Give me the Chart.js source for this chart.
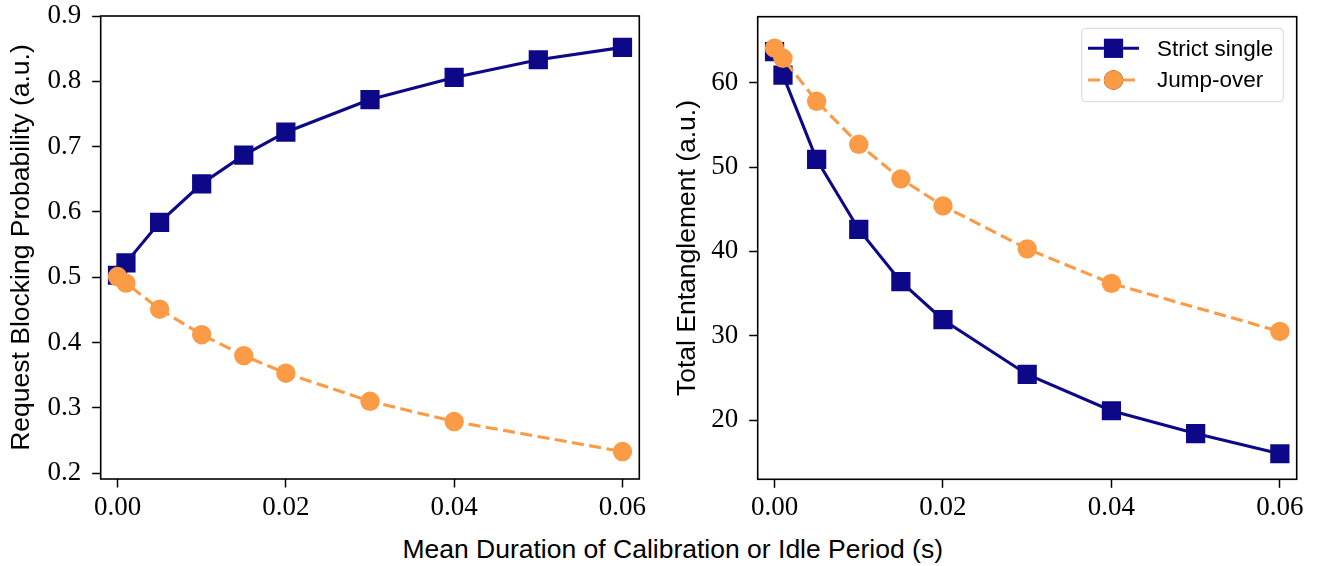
<!DOCTYPE html>
<html>
<head>
<meta charset="utf-8">
<title>Blocking probability and entanglement</title>
<script src="https://cdn.jsdelivr.net/npm/chart.js@4.4.0/dist/chart.umd.min.js"></script>
<style>
  html, body { margin: 0; padding: 0; background: #fff; }
  #wrap { position: relative; width: 1319px; height: 566px; overflow: hidden; }
  canvas { position: absolute; top: 0; }
  #left { left: 0; }
  #right { left: 660px; }
  #xtitle {
    position: absolute; left: 372.7px; width: 600px; top: 534px;
    text-align: center; font: 26.5px "Liberation Sans", Arial, sans-serif;
    line-height: 30px; color: #000; white-space: nowrap;
  }
</style>
</head>
<body>
<div id="wrap">
  <canvas id="left" width="660" height="530"></canvas>
  <canvas id="right" width="659" height="530"></canvas>
  <div id="xtitle">Mean Duration of Calibration or Idle Period (s)</div>
</div>
<script>
// mean calibration / idle duration (s)
const durStrict = [0, 0.001, 0.005, 0.01, 0.015, 0.02, 0.03, 0.04, 0.05, 0.06];
const durJump = [0, 0.001, 0.005, 0.01, 0.015, 0.02, 0.03, 0.04, 0.06];

// request blocking probability
const blockStrict = [0.503, 0.522, 0.584, 0.643, 0.687, 0.722, 0.772, 0.806, 0.833, 0.852];
const blockJump = [0.501, 0.491, 0.451, 0.412, 0.380, 0.353, 0.310, 0.279, 0.233];

// total entanglement
const entStrict = [63.7, 60.9, 50.9, 42.6, 36.4, 31.9, 25.4, 21.1, 18.4, 16.0];
const entJump = [64.1, 62.9, 57.8, 52.7, 48.6, 45.4, 40.3, 36.2, 30.5];

const xTicks = [0, 0.02, 0.04, 0.06];
const yTicksBlock = [0.2, 0.3, 0.4, 0.5, 0.6, 0.7, 0.8, 0.9];
const yTicksEnt = [20, 30, 40, 50, 60];

const seriesNames = ['Strict single', 'Jump-over'];

const NAVY = '#0d0887';
const ORANGE = '#fb9b45';
const SERIF = '"Liberation Serif", "Times New Roman", serif';
const SANS = '"Liberation Sans", Arial, sans-serif';

function pairs(xs, ys) {
  return xs.map((x, i) => ({ x, y: ys[i] }));
}

function strictStyle() {
  return {
    borderColor: NAVY, backgroundColor: NAVY, borderWidth: 3.1,
    pointStyle: 'rect', pointRadius: 13.6, pointBorderWidth: 0,
    pointBackgroundColor: NAVY, order: 1
  };
}

function jumpStyle() {
  return {
    borderColor: ORANGE, backgroundColor: ORANGE, borderWidth: 3.1,
    borderDash: [12, 5.5], pointStyle: 'circle', pointRadius: 9.7,
    pointBorderWidth: 0, pointBackgroundColor: ORANGE, order: 0
  };
}

// black frame round the plot area
const framePlugin = {
  id: 'frame',
  afterDatasetsDraw(chart) {
    const { ctx, chartArea: a } = chart;
    ctx.save();
    ctx.strokeStyle = '#000';
    ctx.lineWidth = 1.6;
    ctx.strokeRect(a.left, a.top, a.right - a.left, a.bottom - a.top);
    ctx.restore();
  }
};

// legend box with line + marker samples
const legendPlugin = {
  id: 'lineLegend',
  afterDraw(chart, args, opts) {
    if (!opts.show) return;
    const ctx = chart.ctx;
    const x0 = 421.7, y0 = 28.3, w = 201.6, h = 73.4;
    ctx.save();
    ctx.beginPath();
    ctx.roundRect(x0, y0, w, h, 4);
    ctx.fillStyle = 'rgba(255,255,255,0.8)';
    ctx.fill();
    ctx.strokeStyle = '#d6d6d6';
    ctx.lineWidth = 1;
    ctx.stroke();
    const rows = [48.3, 80];
    chart.data.datasets.forEach((ds, i) => {
      const y = rows[i];
      ctx.beginPath();
      ctx.setLineDash(ds.borderDash || []);
      ctx.strokeStyle = ds.borderColor;
      ctx.lineWidth = ds.borderWidth;
      ctx.moveTo(428, y);
      ctx.lineTo(479, y);
      ctx.stroke();
      ctx.setLineDash([]);
      Chart.helpers.drawPoint(ctx, {
        pointStyle: ds.pointStyle, radius: ds.pointRadius, rotation: 0, borderWidth: 0
      }, 453.5, y);
      ctx.fillStyle = ds.pointBackgroundColor;
      ctx.fill();
      ctx.fillStyle = '#000';
      ctx.font = '22.5px ' + SANS;
      ctx.textBaseline = 'middle';
      ctx.textAlign = 'left';
      ctx.fillText(ds.label, 497, y + 1);
    });
    ctx.restore();
  }
};

function makeChart(id, cfg) {
  const xScale = {
    type: 'linear', min: -0.002, max: 0.062,
    afterBuildTicks: s => { s.ticks = xTicks.map(v => ({ value: v })); },
    afterFit: s => { s.height = cfg.xHeight; s.paddingLeft = 0; s.paddingRight = 0; },
    ticks: {
      color: '#000', font: { family: SERIF, size: 27 }, padding: 4,
      maxRotation: 0, autoSkip: false, callback: v => v.toFixed(2)
    },
    grid: {
      drawOnChartArea: false, drawTicks: true, tickLength: 8.5,
      tickWidth: 1.5, tickColor: '#000', color: '#000'
    },
    border: { display: false }
  };
  const yScale = {
    type: 'linear', min: cfg.yMin, max: cfg.yMax,
    afterBuildTicks: s => { s.ticks = cfg.yTicks.map(v => ({ value: v })); },
    afterFit: s => { s.width = cfg.yWidth; s.paddingTop = 0; s.paddingBottom = 0; },
    ticks: {
      color: '#000', font: { family: SERIF, size: 27 }, padding: 11,
      autoSkip: false, callback: cfg.yFormat
    },
    grid: {
      drawOnChartArea: false, drawTicks: true, tickLength: 8.5,
      tickWidth: 1.5, tickColor: '#000', color: '#000'
    },
    border: { display: false },
    title: {
      display: true, text: cfg.yTitle, color: '#000',
      font: { family: SANS, size: 26.5 }, padding: { top: cfg.titlePad, bottom: 0 }
    }
  };
  return new Chart(document.getElementById(id), {
    type: 'line',
    data: {
      datasets: [
        Object.assign({ label: seriesNames[0], data: pairs(durStrict, cfg.strict) }, strictStyle()),
        Object.assign({ label: seriesNames[1], data: pairs(durJump, cfg.jump) }, jumpStyle())
      ]
    },
    options: {
      responsive: false, animation: false, devicePixelRatio: 1,
      layout: { padding: cfg.padding },
      scales: { x: xScale, y: yScale },
      plugins: {
        legend: { display: false }, tooltip: { enabled: false },
        lineLegend: { show: cfg.legend }
      }
    },
    plugins: [framePlugin, legendPlugin]
  });
}

makeChart('left', {
  strict: blockStrict, jump: blockJump,
  yMin: 0.191, yMax: 0.9, yTicks: yTicksBlock, yFormat: v => v.toFixed(1),
  yTitle: 'Request Blocking Probability (a.u.)', titlePad: 6,
  yWidth: 100.7, xHeight: 51,
  padding: { top: 16, right: 20.7, bottom: 0, left: 0 }, legend: false
});

makeChart('right', {
  strict: entStrict, jump: entJump,
  yMin: 12.97, yMax: 67.83, yTicks: yTicksEnt, yFormat: v => String(v),
  yTitle: 'Total Entanglement (a.u.)', titlePad: 11.8,
  yWidth: 97.7, xHeight: 50.7,
  padding: { top: 16.7, right: 22.3, bottom: 0, left: 0 }, legend: true
});
</script>
</body>
</html>
